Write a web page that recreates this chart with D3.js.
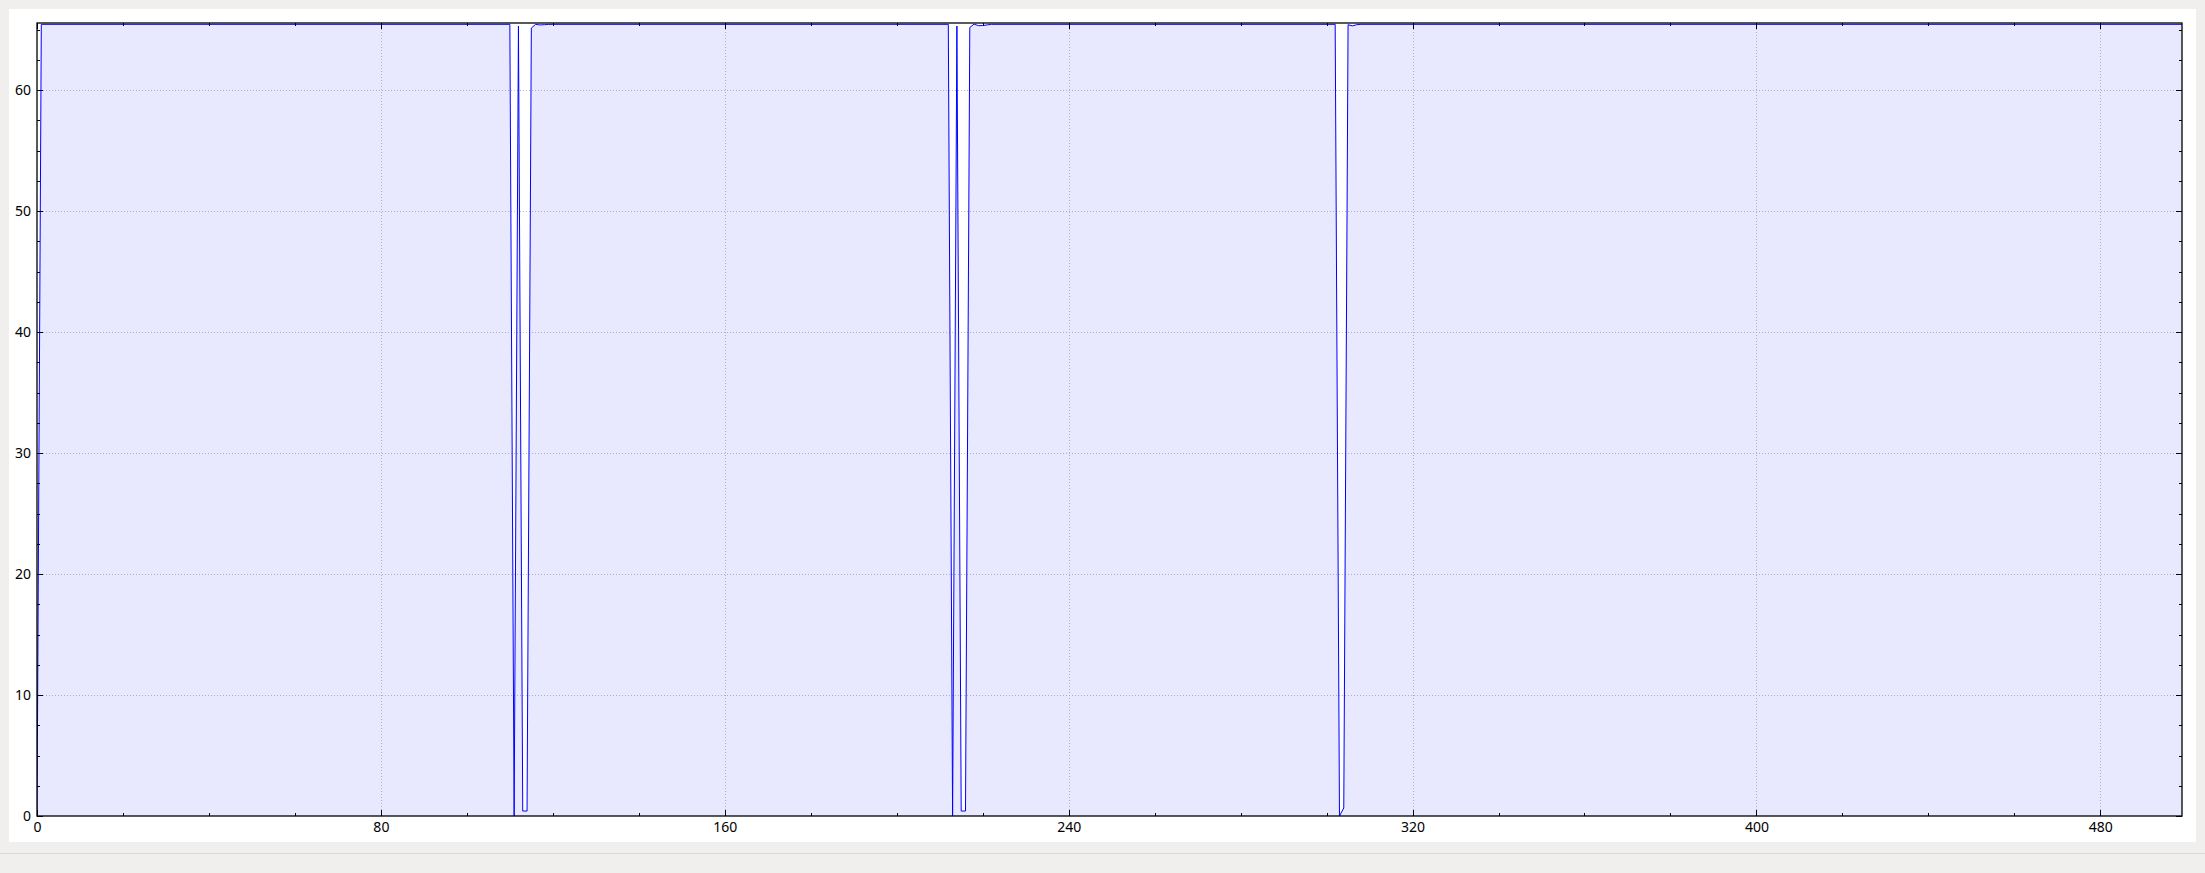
<!DOCTYPE html>
<html>
<head>
<meta charset="utf-8">
<script src="https://cdn.jsdelivr.net/npm/d3@7"></script>
<style>
  html, body { margin: 0; padding: 0; background: #f0efee; }
  svg { display: block; }
</style>
</head>
<body>
<svg id="chart" width="2205" height="873"></svg>
<script>
// ---- data (vertices of the plotted series; value constant between listed points) ----
const sampleIndex = [0, 1, 110, 111, 112, 113, 114, 115, 116, 117, 118, 119, 120,
                     212, 213, 214, 215, 216, 217, 218, 219, 220, 221, 222,
                     302, 303, 304, 305, 306, 307, 308, 499];
const sampleValue = [0, 65.43, 65.43, 0, 65.29, 0.41, 0.41, 65.12, 65.43, 65.38, 65.40, 65.42, 65.43,
                     65.43, 0, 65.29, 0.41, 0.41, 65.17, 65.45, 65.32, 65.33, 65.38, 65.43,
                     65.43, 0, 0.66, 65.40, 65.30, 65.40, 65.43, 65.43];
const xDomain = [0, 499];
const yDomain = [0, 65.54];
const xMajorTicks = [0, 80, 160, 240, 320, 400, 480];
const xMinorTicks = [20, 40, 60, 100, 120, 140, 180, 200, 220, 260, 280, 300, 340, 360, 380, 420, 440, 460];
const yMajorTicks = [0, 10, 20, 30, 40, 50, 60];
const yMinorTicks = [2.5, 5, 7.5, 12.5, 15, 17.5, 22.5, 25, 27.5, 32.5, 35, 37.5, 42.5, 45, 47.5, 52.5, 55, 57.5, 62.5, 65];

const data = sampleIndex.map((d, i) => ({x: d, y: sampleValue[i]}));

// ---- layout ----
const L = 37, R = 2182, T = 23, B = 816;
const svg = d3.select("#chart");

// white panel + status divider
svg.append("rect").attr("x", 9).attr("y", 9).attr("width", 2187).attr("height", 833).attr("fill", "#ffffff");
svg.append("line").attr("x1", 0).attr("x2", 2205).attr("y1", 853.5).attr("y2", 853.5)
   .attr("stroke", "#d9d8d6").attr("stroke-width", 1);

const x = d3.scaleLinear().domain(xDomain).range([L, R]);
const y = d3.scaleLinear().domain(yDomain).range([B, T]);

// plot background
svg.append("rect").attr("x", L).attr("y", T).attr("width", R - L).attr("height", B - T).attr("fill", "#ffffff");

// grid
const grid = svg.append("g").attr("stroke", "#bdbdc0").attr("stroke-width", 1).attr("stroke-dasharray", "1,2");
grid.selectAll(".gx").data(xMajorTicks.filter(d => d > 0)).enter().append("line")
  .attr("x1", d => Math.round(x(d)) + 0.5).attr("x2", d => Math.round(x(d)) + 0.5)
  .attr("y1", T).attr("y2", B);
grid.selectAll(".gy").data(yMajorTicks.filter(d => d > 0)).enter().append("line")
  .attr("y1", d => Math.round(y(d)) + 0.5).attr("y2", d => Math.round(y(d)) + 0.5)
  .attr("x1", L).attr("x2", R);

// clip
svg.append("clipPath").attr("id", "clip").append("rect")
  .attr("x", L).attr("y", T).attr("width", R - L).attr("height", B - T);

const area = d3.area().x(d => x(d.x)).y0(y(0)).y1(d => y(d.y));
const line = d3.line().x(d => x(d.x)).y(d => y(d.y));

const plot = svg.append("g").attr("clip-path", "url(#clip)");
plot.append("path").datum(data).attr("d", area).attr("fill", "rgba(0,0,255,0.09)");
plot.append("path").datum(data).attr("d", line).attr("fill", "none")
  .attr("stroke", "#0000ff").attr("stroke-width", 1);

// axes (ticks inward on all sides)
function styleAxis(g) {
  g.select(".domain").remove();
  g.selectAll(".tick line").attr("stroke", "#000").attr("shape-rendering", "crispEdges");
  g.selectAll("text").attr("fill", "#000");
  g.attr("font-family", "Noto Sans").attr("font-size", 14);
}

svg.append("g").attr("transform", `translate(0,${B})`)
  .call(d3.axisBottom(x).tickValues(xMajorTicks).tickSize(-6).tickPadding(6).tickFormat(d3.format("d")))
  .call(styleAxis);
svg.append("g").attr("transform", `translate(0,${B})`)
  .call(d3.axisBottom(x).tickValues(xMinorTicks).tickSize(-3).tickFormat(""))
  .call(styleAxis);
svg.append("g").attr("transform", `translate(0,${T})`)
  .call(d3.axisTop(x).tickValues(xMajorTicks).tickSize(-6).tickFormat(""))
  .call(styleAxis);
svg.append("g").attr("transform", `translate(0,${T})`)
  .call(d3.axisTop(x).tickValues(xMinorTicks).tickSize(-3).tickFormat(""))
  .call(styleAxis);

svg.append("g").attr("transform", `translate(${L},0)`)
  .call(d3.axisLeft(y).tickValues(yMajorTicks).tickSize(-6).tickPadding(6).tickFormat(d3.format("d")))
  .call(styleAxis);
svg.append("g").attr("transform", `translate(${L},0)`)
  .call(d3.axisLeft(y).tickValues(yMinorTicks).tickSize(-3).tickFormat(""))
  .call(styleAxis);
svg.append("g").attr("transform", `translate(${R},0)`)
  .call(d3.axisRight(y).tickValues(yMajorTicks).tickSize(-6).tickFormat(""))
  .call(styleAxis);
svg.append("g").attr("transform", `translate(${R},0)`)
  .call(d3.axisRight(y).tickValues(yMinorTicks).tickSize(-3).tickFormat(""))
  .call(styleAxis);

// frame
svg.append("rect").attr("x", L).attr("y", T).attr("width", R - L).attr("height", B - T)
  .attr("fill", "none").attr("stroke", "#000").attr("stroke-width", 1.3);
</script>
</body>
</html>
